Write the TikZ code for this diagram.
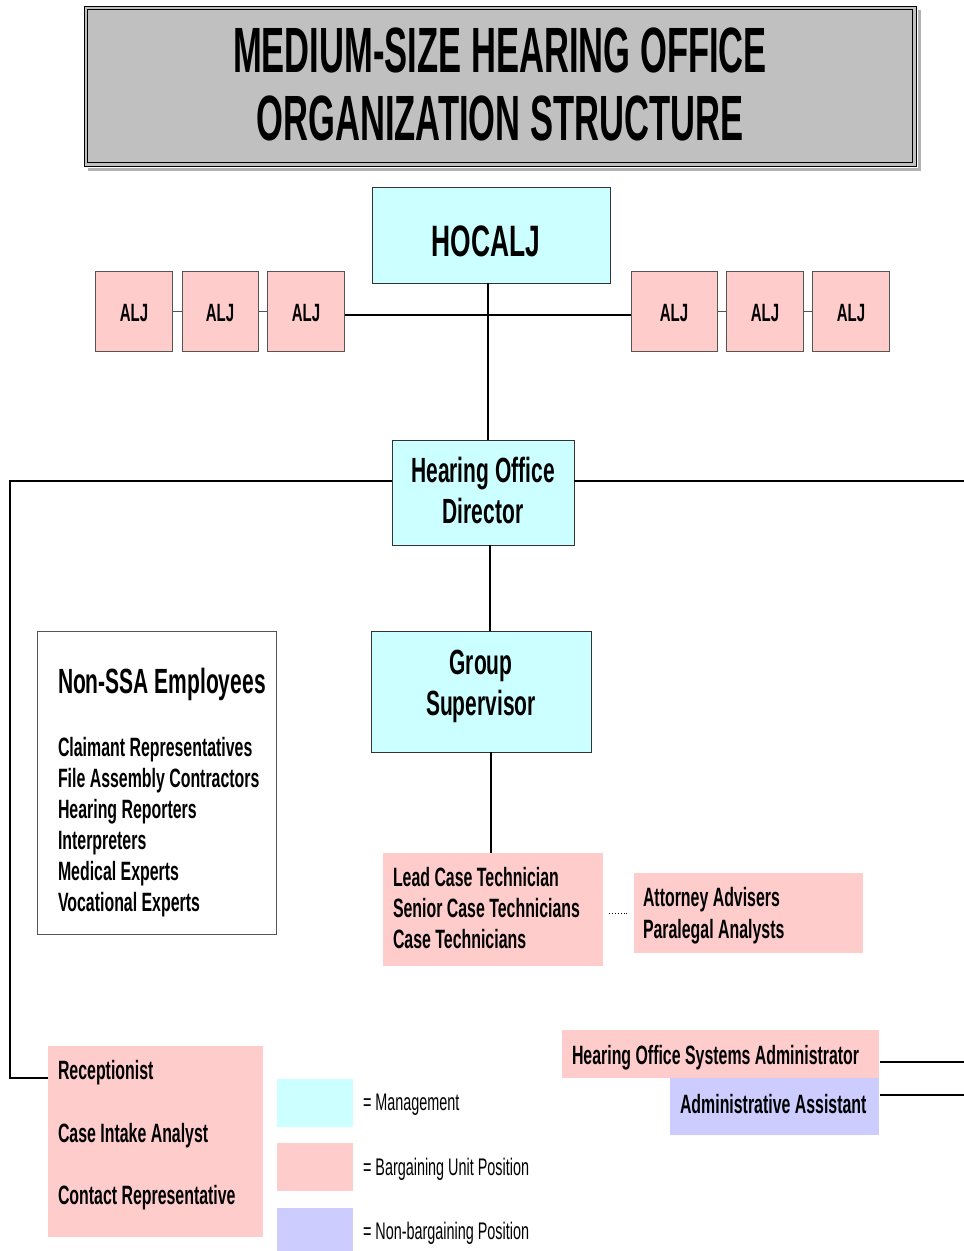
\documentclass[tikz,border=0pt]{standalone}
\usepackage{fontspec}
\setmainfont[FakeStretch=0.6]{Liberation Sans}
\newfontfamily\titlefont[FakeStretch=0.54]{Liberation Sans}
\usetikzlibrary{calc}
\definecolor{mgmt}{HTML}{CCFFFF}
\definecolor{barg}{HTML}{FFCCCC}
\definecolor{nonbarg}{HTML}{CCCCFF}
\definecolor{titlegray}{HTML}{C0C0C0}
\definecolor{bordergray}{HTML}{555555}
\begin{document}
\begin{tikzpicture}[x=1pt,y=-1pt,
  box/.style={rectangle, inner sep=0pt, outer sep=0pt},
  mbox/.style={box, fill=mgmt, draw=black!80, line width=0.8pt},
  aljbox/.style={box, fill=barg, draw=bordergray, line width=0.9pt, minimum height=80pt},
  pbox/.style={box, fill=barg},
  lbox/.style={box, fill=nonbarg},
  txt/.style={inner sep=0pt, outer sep=0pt},
  body/.style={txt, font=\fontsize{26.5}{31}\selectfont\bfseries, align=left, anchor=base west},
  bigtxt/.style={txt, font=\fontsize{35}{41}\selectfont\bfseries, align=center, anchor=base},
  aljtxt/.style={txt, font=\fontsize{25}{30}\selectfont\bfseries, anchor=base},
  legtxt/.style={txt, font=\fontsize{24}{28}\selectfont, anchor=base west},
  conn/.style={draw=black, line width=1.4pt},
  thinconn/.style={draw=bordergray, line width=1pt}
]
\useasboundingbox (0,0) rectangle (964,1251);
\fill[white] (0,0) rectangle (964,1251);

% Title
\draw[gray!60, line width=2.5pt] (88,169.5) -- (919.5,169.5) -- (919.5,10);
\node[box, fill=titlegray, draw=black, line width=0.8pt, minimum width=832pt, minimum height=160pt] (title) at (500,86) {};
\draw[line width=1.8pt] ($(title.north west)+(3.5,3.5)$) rectangle ($(title.south east)+(-3.5,-3.5)$);
\node[txt, anchor=base, font=\fontsize{64}{70}\selectfont\titlefont\bfseries] (t1) at (500,72) {MEDIUM-SIZE HEARING OFFICE};
\node[txt, anchor=base, font=\fontsize{64}{70}\selectfont\titlefont\bfseries] (t2) at (500,140) {ORGANIZATION STRUCTURE};

% HOCALJ
\node[mbox, minimum width=238pt, minimum height=96pt] (hocalj) at (491,235) {};
\node[txt, anchor=base, font=\fontsize{44}{50}\selectfont\bfseries] (hocaljt) at (486,256) {HOCALJ};

% ALJ boxes
\node[aljbox, minimum width=77pt] (alj1) at (134,311) {};
\node[aljbox, minimum width=76pt] (alj2) at (220,311) {};
\node[aljbox, minimum width=77pt] (alj3) at (306,311) {};
\node[aljbox, minimum width=86pt] (alj4) at (674,311) {};
\node[aljbox, minimum width=77pt] (alj5) at (765,311) {};
\node[aljbox, minimum width=77pt] (alj6) at (851,311) {};
\foreach \n in {1,...,6}{
  \node[aljtxt] (alj\n t) at ($(alj\n.center)+(0,10)$) {ALJ};
}
\draw[thinconn] (alj1.east) -- (alj2.west);
\draw[thinconn] (alj2.east) -- (alj3.west);
\draw[thinconn] (alj4.east) -- (alj5.west);
\draw[thinconn] (alj5.east) -- (alj6.west);
\draw[conn] ($(alj3.east)+(0,4)$) -- ($(alj4.west)+(0,4)$);

% Hearing Office Director
\node[mbox, minimum width=182pt, minimum height=105pt] (hod) at (483,492.5) {};
\node[bigtxt] (hodt) at (483,523.5) {Hearing Office\\Director};
\draw[conn] ($(hocalj.south)+(-3,0)$) -- ($(hocalj.south |- hod.north)+(-3,0)$);

% Group Supervisor
\node[mbox, minimum width=220pt, minimum height=121pt] (gs) at (481,691.5) {};
\node[bigtxt] (gst) at (481,715.5) {Group\\Supervisor};
\draw[conn] ($(hod.south)+(7,0)$) -- ($(hod.south |- gs.north)+(7,0)$);

% Case technicians
\node[pbox, minimum width=220pt, minimum height=113pt] (lead) at (493,909.5) {};
\node[body] (leadt) at (393,948.5) {Lead Case Technician\\Senior Case Technicians\\Case Technicians};
\draw[conn] ($(gs.south)+(10,0)$) -- ($(gs.south |- lead.north)+(10,0)$);

\node[pbox, minimum width=229pt, minimum height=80pt] (atty) at (748.5,913) {};
\node[body, font=\fontsize{26.5}{32}\selectfont\bfseries] (attyt) at (643,938) {Attorney Advisers\\Paralegal Analysts};
\draw[dotted, line width=0.9pt, shorten <=6pt, shorten >=6pt] (lead.east |- atty.west) -- (atty.west);

% Non-SSA employees
\node[box, fill=white, draw=bordergray, line width=0.9pt, minimum width=239pt, minimum height=303pt] (nonssa) at (156.5,782.5) {};
\node[txt, anchor=base west, font=\fontsize{35}{41}\selectfont\bfseries] (nonssat) at (58,693) {Non-SSA Employees};
\node[body] (nonssal) at (58,911.5) {Claimant Representatives\\File Assembly Contractors\\Hearing Reporters\\Interpreters\\Medical Experts\\Vocational Experts};

% Left connector to Receptionist box
\node[pbox, minimum width=215pt, minimum height=191pt] (recep) at (155.5,1141.5) {};
\node[body, font=\fontsize{26.5}{62.5}\selectfont\bfseries] (recept) at (58,1204.5) {Receptionist\\Case Intake Analyst\\Contact Representative};
\coordinate (ltop) at (10,481);
\coordinate (lbot) at (10,1078);
\draw[conn] (hod.west |- ltop) -- (ltop) -- (lbot) -- (lbot -| recep.west);
\coordinate (rtop) at (964,481);
\draw[conn] (hod.east |- rtop) -- (rtop);

% Systems administrator and admin assistant
\node[pbox, minimum width=317pt, minimum height=48pt] (hosa) at (720.5,1054) {};
\node[txt, anchor=base west, font=\fontsize{26.5}{31}\selectfont\bfseries] (hosat) at (572,1064.5) {Hearing Office Systems Administrator};
\node[lbox, minimum width=209pt, minimum height=57pt] (admin) at (774.5,1106.5) {};
\node[txt, anchor=base west, font=\fontsize{26.5}{31}\selectfont\bfseries] (admint) at (680,1113.5) {Administrative Assistant};
\coordinate (r1) at (964,1062);
\coordinate (r2) at (964,1095);
\draw[conn] ($(hosa.east |- r1)+(1,0)$) -- (r1);
\draw[conn] ($(admin.east |- r2)+(1,0)$) -- (r2);

% Legend
\node[box, fill=mgmt, minimum width=76pt, minimum height=48pt] (leg1) at (315,1103) {};
\node[box, fill=barg, minimum width=76pt, minimum height=48pt] (leg2) at (315,1167) {};
\node[box, fill=nonbarg, minimum width=76pt, minimum height=43pt] (leg3) at (315,1229.5) {};
\node[legtxt] (leg1t) at (363,1110.5) {= Management};
\node[legtxt] (leg2t) at (363,1175.5) {= Bargaining Unit Position};
\node[legtxt] (leg3t) at (363,1239.5) {= Non-bargaining Position};
\end{tikzpicture}
\end{document}
